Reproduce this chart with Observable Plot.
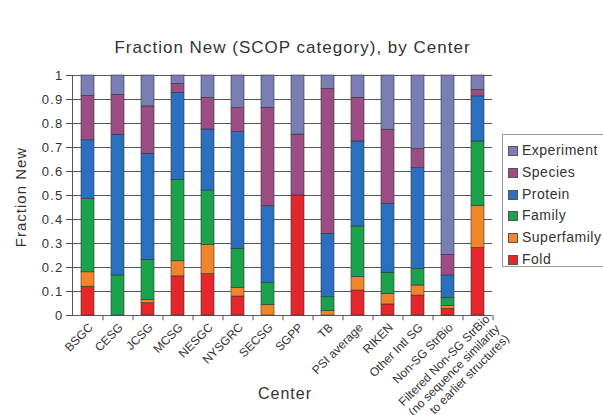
<!DOCTYPE html>
<html>
<head>
<meta charset="utf-8">
<script src="https://cdn.jsdelivr.net/npm/d3@7"></script>
<script src="https://cdn.jsdelivr.net/npm/@observablehq/plot@0.6"></script>
<style>
  html, body { margin: 0; padding: 0; background: #fff; }
  #wrap { position: relative; width: 603px; height: 415px; overflow: hidden; font-family: "Liberation Sans", Arial, sans-serif; color: #333; }
  #title { position: absolute; left: 0; width: 585px; top: 38px; text-align: center; font-size: 17px; letter-spacing: 1px; white-space: nowrap; }
  #xlabel { position: absolute; left: 0; width: 570px; top: 385px; text-align: center; font-size: 16px; letter-spacing: 1px; }
  #ylabel { position: absolute; left: 20px; top: 197px; transform: translate(-50%, -50%) rotate(-90deg); font-size: 15px; letter-spacing: 1px; white-space: nowrap; }
  #legend { position: absolute; left: 502px; top: 134px; width: 120px; height: 133px; border: 1px solid #999; box-sizing: border-box; }
  .item { position: absolute; left: 5px; font-size: 14px; letter-spacing: 0.5px; white-space: nowrap; line-height: 16px; }
  .sw { display: inline-block; width: 10px; height: 10px; margin-right: 4px; vertical-align: -1px; border: 0.5px solid #555; box-sizing: border-box; }
  g[aria-label="y-axis tick label"] text { letter-spacing: 1.2px; }
</style>
</head>
<body>
<div id="wrap">
  <div id="chart"></div>
  <div id="title">Fraction New (SCOP category), by Center</div>
  <div id="xlabel">Center</div>
  <div id="ylabel">Fraction New</div>
  <div id="legend"></div>
</div>
<script>
const categories = ["BSGC","CESG","JCSG","MCSG","NESGC","NYSGRC","SECSG","SGPP","TB","PSI average","RIKEN","Other Intl SG","Non-SG StrBio","Filtered Non-SG StrBio\n(no sequence similarity\nto earlier structures)"];
const series = ["Fold","Superfamily","Family","Protein","Species","Experiment"];
const colors = ["#e5272b","#f0862c","#1ba34b","#2b6fc0","#9b4d84","#7a7eb4"];

const fold        = [0.120,0.000,0.051,0.163,0.172,0.079,0.000,0.500,0.000,0.104,0.046,0.083,0.028,0.281];
const superfamily = [0.060,0.000,0.014,0.063,0.122,0.035,0.044,0.000,0.018,0.056,0.044,0.042,0.011,0.175];
const family      = [0.305,0.167,0.167,0.339,0.227,0.164,0.092,0.000,0.058,0.211,0.088,0.069,0.035,0.269];
const protein     = [0.245,0.586,0.442,0.363,0.254,0.486,0.320,0.000,0.264,0.354,0.287,0.420,0.093,0.188];
const species     = [0.185,0.166,0.197,0.037,0.131,0.100,0.409,0.254,0.604,0.182,0.309,0.080,0.086,0.027];
const experiment  = [0.085,0.081,0.129,0.035,0.094,0.136,0.135,0.246,0.056,0.093,0.226,0.306,0.747,0.060];
const yTicks = [0,0.1,0.2,0.3,0.4,0.5,0.6,0.7,0.8,0.9,1];

const values = [fold, superfamily, family, protein, species, experiment];
const table = [];
categories.forEach((c, i) => series.forEach((s, j) => table.push({center: c, category: s, value: values[j][i]})));

const shortLabels = categories.slice(0, categories.length - 1);
const longLabel = categories.slice(categories.length - 1);

const chart = Plot.plot({
  width: 603, height: 415,
  marginLeft: 72, marginRight: 111, marginTop: 75, marginBottom: 100,
  style: {fontFamily: "Liberation Sans, Arial, sans-serif", fontSize: "13px", color: "#333", background: "white"},
  x: {domain: categories, paddingInner: 0.58, paddingOuter: 0.29, axis: null},
  y: {domain: [0, 1], axis: null},
  color: {domain: series, range: colors},
  marks: [
    Plot.ruleY(yTicks, {stroke: "#5a5a5a", strokeWidth: 1}),
    Plot.barY(table, {x: "center", y: "value", fill: "category", order: series, stroke: "#333", strokeWidth: 0.6}),
    Plot.frame({anchor: "left", stroke: "#555"}),
    Plot.axisY({ticks: yTicks, label: null, tickFormat: d => String(d), tickSize: 6, tickPadding: 3, fontSize: 13, stroke: "#555"}),
    Plot.ruleX(categories, {x: d => d, dx: 15, y1: 0, y2: -0.022, stroke: "#555"}),
    Plot.text(shortLabels, {x: d => d, frameAnchor: "bottom", rotate: -45, textAnchor: "end", lineAnchor: "middle", dx: 3, dy: 10, fontSize: 12, fill: "#333"}),
    Plot.text(longLabel, {x: d => d, frameAnchor: "bottom", rotate: -45, textAnchor: "end", lineAnchor: "middle", lineHeight: 1.15, dx: 19, dy: 11, fontSize: 12, fill: "#333"})
  ]
});
document.getElementById("chart").appendChild(chart);

const legend = document.getElementById("legend");
[...series].reverse().forEach((s, k) => {
  const div = document.createElement("div");
  div.className = "item";
  div.style.top = (7 + k * 21.8) + "px";
  const sw = document.createElement("span");
  sw.className = "sw";
  sw.style.background = colors[series.indexOf(s)];
  div.appendChild(sw);
  div.appendChild(document.createTextNode(s));
  legend.appendChild(div);
});
</script>
</body>
</html>
